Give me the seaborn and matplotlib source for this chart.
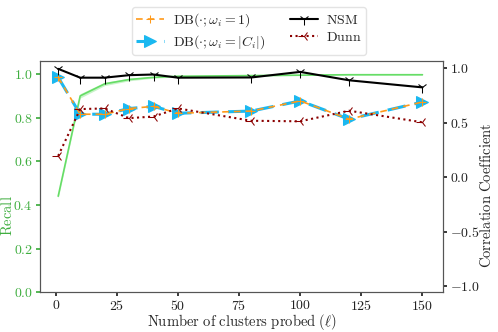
import numpy as np
import pandas as pd
import matplotlib
matplotlib.use("Agg")
import matplotlib.pyplot as plt
from matplotlib.ticker import FuncFormatter
import seaborn as sns

sns.set_theme(style="white")
plt.rcParams['font.family'] = ['cmr10', 'DejaVu Serif']
plt.rcParams['mathtext.fontset'] = 'cm'
plt.rcParams['axes.unicode_minus'] = True

clusters = [1, 10, 20, 30, 40, 50, 80, 100, 120, 150]
recall = [0.44, 0.90, 0.955, 0.975, 0.985, 0.99, 0.993, 0.995, 0.997, 0.997]
recall_lo = [0.43, 0.89, 0.947, 0.969, 0.981, 0.987, 0.991, 0.993, 0.995, 0.995]
recall_hi = [0.45, 0.91, 0.963, 0.981, 0.989, 0.993, 0.995, 0.997, 0.999, 0.999]
db_w1 = [0.916, 0.578, 0.578, 0.63, 0.65, 0.587, 0.607, 0.70, 0.533, 0.69]
db_wc = [0.916, 0.578, 0.578, 0.63, 0.65, 0.587, 0.607, 0.70, 0.533, 0.69]
nsm = [0.994, 0.913, 0.913, 0.936, 0.942, 0.913, 0.915, 0.966, 0.889, 0.824]
dunn = [0.196, 0.625, 0.631, 0.542, 0.557, 0.631, 0.518, 0.513, 0.61, 0.504]

df = pd.DataFrame({"l": clusters, "recall": recall, "db1": db_w1, "dbc": db_wc,
                   "nsm": nsm, "dunn": dunn})

fig = plt.figure(figsize=(4.98, 3.32), dpi=100)
ax = fig.add_axes([0.08, 0.12, 0.81, 0.695])
ax2 = ax.twinx()

green = "#66dd66"
ax.fill_between(clusters, recall_lo, recall_hi, color=green, alpha=0.35, lw=0)
sns.lineplot(data=df, x="l", y="recall", ax=ax, color=green, lw=1.2)

cyan = "#1ab8f0"
orange = "#ff9a1a"
sns.lineplot(data=df, x="l", y="dbc", ax=ax2, color=cyan, lw=2.2, linestyle=(0, (6, 3)),
             marker=">", markersize=9, markeredgecolor=cyan, label=r"$\mathrm{DB}(\cdot;\omega_i=|C_i|)$", legend=False)
sns.lineplot(data=df, x="l", y="db1", ax=ax2, color=orange, lw=1.2, linestyle=(0, (4, 3)),
             marker="+", markersize=6, markeredgecolor=orange, label=r"$\mathrm{DB}(\cdot;\omega_i=1)$", legend=False)
sns.lineplot(data=df, x="l", y="nsm", ax=ax2, color="black", lw=1.5,
             marker="1", markersize=8, markeredgecolor="black", label=r"$\mathrm{NSM}$", legend=False)
sns.lineplot(data=df, x="l", y="dunn", ax=ax2, color="#8b0000", lw=1.5, linestyle=":",
             marker="3", markersize=8, markeredgecolor="#8b0000", label=r"$\mathrm{Dunn}$", legend=False)

ax.set_xlim(-6.5, 158.5)
ax.set_ylim(0, 1.058)
ax2.set_ylim(-1.053, 1.062)
ax.set_xticks([0, 25, 50, 75, 100, 125, 150])
ax.set_yticks([0, 0.2, 0.4, 0.6, 0.8, 1.0])
ax2.set_yticks([-1.0, -0.5, 0.0, 0.5, 1.0])
ax.xaxis.set_major_formatter(FuncFormatter(lambda v, p: r"$%d$" % v))
ax.yaxis.set_major_formatter(FuncFormatter(lambda v, p: r"$%.1f$" % v))
ax2.yaxis.set_major_formatter(FuncFormatter(lambda v, p: r"$%.1f$" % v))

lab_green = "#3fae3f"
ax.set_xlabel(r"$\mathrm{Number\ of\ clusters\ probed\ }(\ell)$", fontsize=10.5)
ax.set_ylabel(r"$\mathrm{Recall}$", color=lab_green, fontsize=10.5)
ax2.set_ylabel(r"$\mathrm{Correlation\ Coefficient}$", fontsize=10.5)
ax.xaxis.set_label_coords(0.5, -0.088)
ax.yaxis.set_label_coords(-0.062, 0.33)
ax2.yaxis.set_label_coords(1.088, 0.42)
ax.tick_params(axis='y', colors=lab_green, labelsize=10, length=3, pad=2, direction='out', left=True)
ax.tick_params(axis='x', labelsize=10, length=3, pad=2, bottom=True, colors="#222222")
ax2.tick_params(axis='y', labelsize=10, length=3, pad=2, right=True, colors="#222222")
for a in (ax, ax2):
    for s in a.spines.values():
        s.set_color("#555555")
        s.set_linewidth(0.8)

h, l = ax2.get_legend_handles_labels()
order = [1, 0, 2, 3]
fig.legend([h[i] for i in order], [l[i] for i in order], loc="upper center",
           bbox_to_anchor=(0.5, 1.0), ncol=2, fontsize=10, frameon=True,
           edgecolor="#dddddd", fancybox=True, handlelength=2.0, handletextpad=0.6,
           columnspacing=1.8, labelspacing=0.3, borderpad=0.3)

fig.savefig("out.png", dpi=100)
